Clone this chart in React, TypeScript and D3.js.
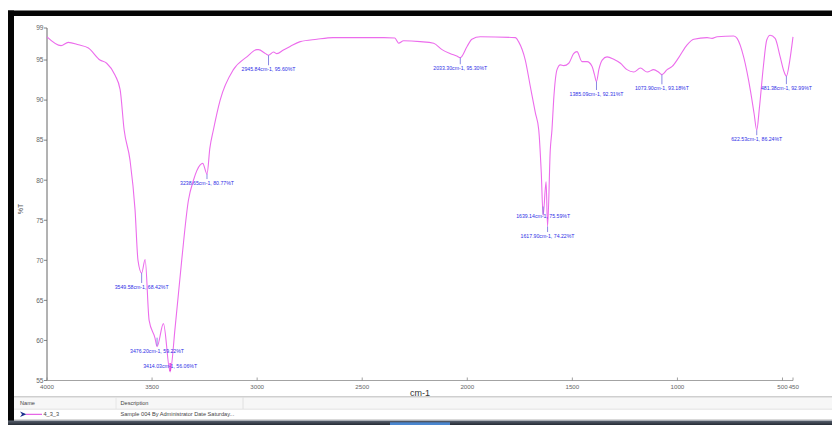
import React from "react";
import * as d3 from "d3";

// Spectrum trace: wavenumber (cm-1) and transmittance (%T)
const wavenumbers = [
  4000, 3933, 3899, 3850, 3803, 3748, 3716, 3676, 3652, 3633, 3605, 3581, 3567,
  3533, 3514, 3486, 3446, 3390, 3359, 3327, 3303, 3271, 3259, 3225, 3208, 3176,
  3113, 3049, 3001, 2994, 2960, 2922, 2906, 2875, 2843, 2795, 2716, 2638, 2398,
  2345, 2335, 2327, 2303, 2224, 2160, 2120, 2080, 2050, 2001, 1978, 1938, 1771,
  1756, 1724, 1700, 1676, 1660, 1648, 1625, 1605, 1597, 1589, 1573, 1557, 1541,
  1517, 1494, 1478, 1454, 1430, 1406, 1395, 1374, 1358, 1335, 1303, 1271, 1240,
  1208, 1176, 1144, 1113, 1090, 1049, 1025, 994, 954, 922, 859, 835, 811, 732,
  716, 684, 652, 635, 610, 591, 575, 559, 535, 511, 492, 465, 450,
];
const transmittance = [
  97.9, 96.8, 97.2, 96.9, 96.5, 95.0, 94.6, 93.1, 91.3, 86.3, 82.5, 76.3, 70.0,
  70.1, 62.5, 60.3, 62.1, 61.7, 70.0, 77.5, 80.0, 81.9, 82.1, 84.0, 86.3, 90.0,
  93.8, 95.4, 96.3, 96.3, 95.8, 96.0, 95.8, 96.25, 96.7, 97.3, 97.6, 97.8, 97.8,
  97.75, 97.4, 97.1, 97.4, 97.3, 97.1, 96.3, 95.8, 95.5, 96.7, 97.6, 97.9, 97.8,
  97.3, 95.0, 91.7, 88.4, 86.3, 81.0, 79.8, 83.8, 86.3, 90.0, 93.8, 94.4, 94.3,
  94.6, 95.8, 96.05, 94.8, 94.8, 94.2, 93.2, 93.8, 95.0, 95.4, 95.1, 94.6, 93.8,
  93.5, 94.0, 93.5, 93.8, 93.5, 93.8, 94.2, 95.3, 96.9, 97.6, 97.8, 97.7, 97.9, 98.0,
  97.7, 95.3, 91.1, 88.3, 89.0, 94.2, 97.5, 98.1, 97.7, 95.4, 93.5, 95.0, 97.9,
];

// Picked peaks
const peakWavenumbers = [
  3549.58, 3476.2, 3414.03, 3238.65, 2945.84, 2033.3, 1639.14, 1617.9, 1385.09,
  1073.9, 622.53, 481.38,
];
const peakTransmittance = [
  68.42, 59.22, 56.06, 80.77, 95.6, 95.3, 75.59, 74.22, 92.31, 93.18, 86.24, 92.99,
];
// vertical placement of each peak label relative to its peak (px)
const peakLabelShift = [14, 4.3, -6, 9, 14, 10.6, 0.5, 9.5, 12.4, 13.7, 9, 12];

const yTicks = [55, 60, 65, 70, 75, 80, 85, 90, 95, 99];
const xTicks = [4000, 3500, 3000, 2500, 2000, 1500, 1000, 500, 450];

const legendName = "4_3_3";
const legendDescription = "Sample 004 By Administrator Date Saturday...";

const FONT = "'Liberation Sans', Arial, sans-serif";

export default function App() {
  const x = d3.scaleLinear().domain([4000, 450]).range([47, 793]);
  const y = d3.scaleLinear().domain([55, 99]).range([380.5, 28]);

  const points: [number, number][] = wavenumbers
    .map((w, i) => [w, transmittance[i]] as [number, number])
    .concat(peakWavenumbers.map((w, i) => [w, peakTransmittance[i]] as [number, number]))
    .sort((a, b) => b[0] - a[0]);

  const line = d3
    .line<[number, number]>()
    .x((d) => x(d[0]))
    .y((d) => y(d[1]))
    .curve(d3.curveMonotoneX);

  return (
    <svg
      width={832}
      height={425}
      style={{ position: "absolute", left: 0, top: 0, background: "#fff" }}
      fontFamily={FONT}
    >
      <defs>
        <linearGradient id="statusBar" x1="0" y1="0" x2="0" y2="1">
          <stop offset="0" stopColor="#5a6270" />
          <stop offset="1" stopColor="#252b34" />
        </linearGradient>
      </defs>

      {/* window frame */}
      <rect x={8} y={10.5} width={824} height={5.5} fill="#050505" />
      <rect x={8} y={10.5} width={6} height={414.5} fill="#050505" />

      {/* legend table */}
      <rect x={14} y={397} width={818} height={12} fill="#f7f7f7" />
      <line x1={14} x2={832} y1={396.8} y2={396.8} stroke="#aaa" strokeWidth={0.8} />
      <line x1={14} x2={832} y1={409.2} y2={409.2} stroke="#dcdcdc" strokeWidth={0.8} />
      <line x1={116} x2={116} y1={397} y2={409} stroke="#e2e2e2" strokeWidth={0.8} />
      <line x1={243} x2={243} y1={397} y2={409} stroke="#dadada" strokeWidth={0.8} />
      <text x={20} y={405.3} fontSize={5.6} fill="#444">
        Name
      </text>
      <text x={120.5} y={405.3} fontSize={5.6} fill="#444">
        Description
      </text>
      <path d="M20,411.5 L26.5,414.3 L20,417 L22,414.3 Z" fill="#1b2f8f" />
      <line x1={26} x2={42} y1={414.3} y2={414.3} stroke="#e040e0" strokeWidth={1} />
      <text x={43.5} y={416.3} fontSize={5.6} fill="#444">
        {legendName}
      </text>
      <text x={120.5} y={416.3} fontSize={5.6} fill="#444">
        {legendDescription}
      </text>
      <line x1={14} x2={832} y1={419.5} y2={419.5} stroke="#cfcfcf" strokeWidth={0.8} />

      {/* status bar */}
      <rect x={8} y={420.5} width={824} height={4.5} fill="url(#statusBar)" />
      <rect x={390} y={422.3} width={60} height={2.7} fill="#4a86cf" />

      {/* y axis */}
      <line x1={47} x2={47} y1={y(99)} y2={y(55)} stroke="#555" strokeWidth={0.9} />
      {yTicks.map((t) => (
        <g key={"y" + t}>
          <line x1={44} x2={47} y1={y(t)} y2={y(t)} stroke="#666" strokeWidth={0.8} />
          <text x={43.5} y={y(t) + 2.3} fontSize={6.6} fill="#666" textAnchor="end">
            {t}
          </text>
        </g>
      ))}
      <text
        transform={`translate(22.5,${209}) rotate(-90)`}
        fontSize={7}
        fill="#555"
        textAnchor="middle"
      >
        %T
      </text>

      {/* x axis */}
      <line x1={x(4000)} x2={x(450)} y1={380.5} y2={380.5} stroke="#999" strokeWidth={0.9} />
      {xTicks.map((t) => (
        <g key={"x" + t}>
          <line x1={x(t)} x2={x(t)} y1={377.5} y2={380.5} stroke="#888" strokeWidth={0.8} />
          <text x={x(t) + (t === 450 ? 0.8 : 0)} y={389} fontSize={6.2} fill="#666" textAnchor="middle">
            {t}
          </text>
        </g>
      ))}
      <text x={420} y={395.8} fontSize={9} fill="#333" textAnchor="middle">
        cm-1
      </text>

      {/* spectrum */}
      <path d={line(points) || ""} fill="none" stroke="#ec6cec" strokeWidth={1.1} />

      {/* peak markers and labels */}
      {peakWavenumbers.map((w, i) => {
        const px = x(w);
        const py = y(peakTransmittance[i]);
        const dy = peakLabelShift[i];
        const below = dy > 6;
        const y1 = below ? py : py - 9;
        const y2 = below ? py + dy - 4 : py - 1;
        const selected = i === 2;
        return (
          <g key={"p" + i}>
            <line
              x1={px}
              x2={px}
              y1={y1}
              y2={y2}
              stroke={selected ? "#e030d8" : "#7c7ce0"}
              strokeWidth={selected ? 1.3 : 0.9}
            />
            <text
              x={px}
              y={py + dy + 1.8}
              fontSize={5.2}
              fill="#2f2fe6"
              textAnchor="middle"
            >
              {`${w.toFixed(2)}cm-1, ${peakTransmittance[i].toFixed(2)}%T`}
            </text>
          </g>
        );
      })}
    </svg>
  );
}
